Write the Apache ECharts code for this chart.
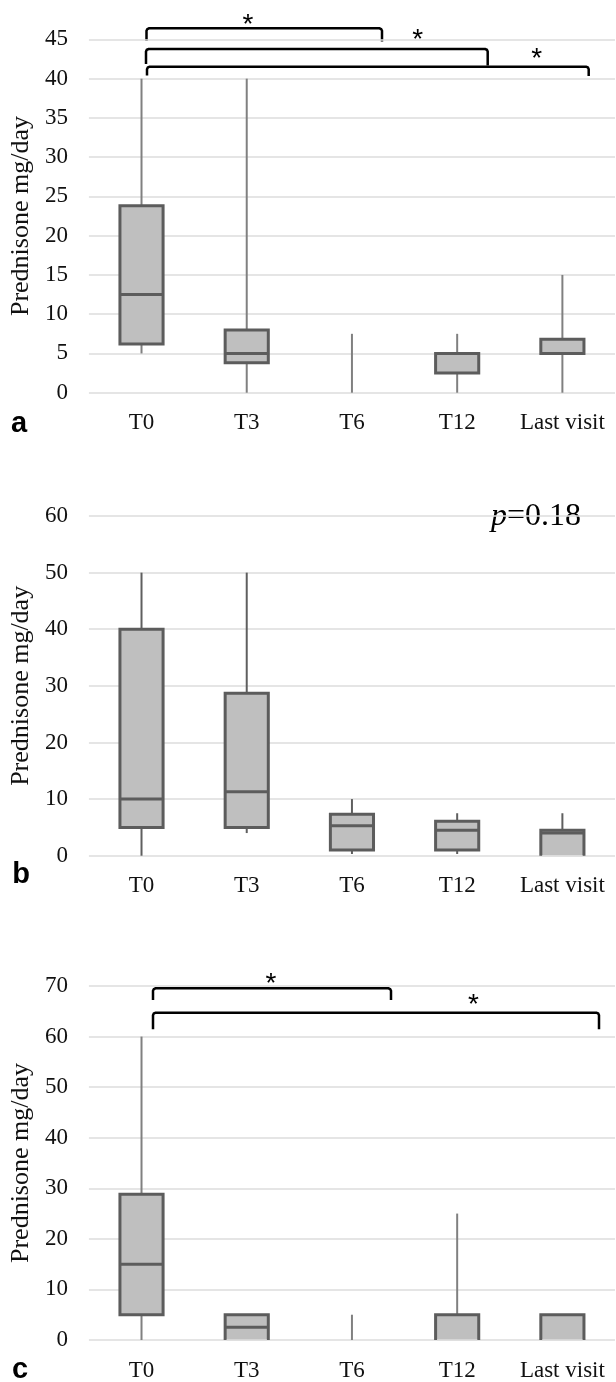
<!DOCTYPE html>
<html>
<head>
<meta charset="utf-8">
<script src="https://cdn.jsdelivr.net/npm/echarts@6/dist/echarts.min.js"></script>
<style>
html,body{margin:0;padding:0;background:#fff;}
#chart{width:616px;height:1382px;}
</style>
</head>
<body>
<div id="chart"></div>
<script>
// ---------- DATA ----------
const categories = ['T0', 'T3', 'T6', 'T12', 'Last visit'];

// Panel a
const aMin    = [5,    0,   0,   0,   0];
const aQ1     = [6.2,  3.8, 0,   2.5, 5];
const aMedian = [12.5, 5,   0,   5,   5];
const aQ3     = [23.8, 8,   0,   5,   6.8];
const aMax    = [40,   40,  7.5, 7.5, 15];

// Panel b
const bMin    = [0,  4,    0.3, 0.3, 0];
const bQ1     = [5,  5,    1,   1,   0];
const bMedian = [10, 11.3, 5.3, 4.5, 4];
const bQ3     = [40, 28.7, 7.3, 6.1, 4.5];
const bMax    = [50, 50,   10,  7.5, 7.5];

// Panel c
const cMin    = [0,    0,   0, 0,  0];
const cQ1     = [5,    0,   0, 0,  0];
const cMedian = [15,   2.5, 0, 5,  5];
const cQ3     = [28.8, 5,   0, 5,  5];
const cMax    = [60,   5,   5, 25, 5];

// axis ranges
const aAxis = {min: 0, max: 45, interval: 5};
const bAxis = {min: 0, max: 60, interval: 10};
const cAxis = {min: 0, max: 70, interval: 10};

const yTitle = 'Prednisone mg/day';
const pText = '0.18';

// ---------- BUILD ----------
function rows(mn, q1, md, q3, mx) {
  return categories.map((c, i) => [i, mn[i], q1[i], md[i], q3[i], mx[i]]);
}

const SERIF = '"Liberation Serif", "Times New Roman", serif';
const SANS = '"Liberation Sans", Arial, sans-serif';
const grids = [
  {left: 87, width: 528, top: 39.4, height: 353.3},
  {left: 87, width: 528, top: 516, height: 339.7},
  {left: 87, width: 528, top: 986, height: 354}
];
const ranges = [aAxis, bAxis, cAxis];
const whiskerColors = ['#808080', '#5f5f5f', '#808080'];
const BOX_STROKE = '#5c5c5c';

function makeRender(wColor, axisMin) {
  return function (params, api) {
    const idx = api.value(0);
    const mn = api.value(1), q1 = api.value(2), md = api.value(3), q3 = api.value(4), mx = api.value(5);
    const pMin = api.coord([idx, mn]);
    const pQ1 = api.coord([idx, q1]);
    const pMd = api.coord([idx, md]);
    const pQ3 = api.coord([idx, q3]);
    const pMax = api.coord([idx, mx]);
    const bw = api.size([1, 0])[0] * 0.41;
    const cx = pMin[0];
    const xl = cx - bw / 2, xr = cx + bw / 2;
    const children = [];
    const wStyle = {stroke: wColor, lineWidth: 2, fill: null};
    if (mn < q1) children.push({type: 'line', shape: {x1: cx, y1: pMin[1], x2: cx, y2: pQ1[1]}, style: wStyle});
    if (mx > q3) children.push({type: 'line', shape: {x1: cx, y1: pQ3[1], x2: cx, y2: pMax[1]}, style: wStyle});
    if (q3 > q1) {
      if (q1 <= axisMin) {
        // box sitting on the baseline: bottom edge merges with the light gridline
        children.push({type: 'rect', shape: {x: xl, y: pQ3[1], width: bw, height: pQ1[1] - pQ3[1]},
          style: {fill: '#bfbfbf'}});
        children.push({type: 'polyline', shape: {points: [[xl, pQ1[1]], [xl, pQ3[1]], [xr, pQ3[1]], [xr, pQ1[1]]]},
          style: {stroke: BOX_STROKE, lineWidth: 3, fill: null}});
        children.push({type: 'line', shape: {x1: xl + 1.5, y1: pQ1[1], x2: xr - 1.5, y2: pQ1[1]},
          style: {stroke: '#dcdcdc', lineWidth: 1.5}});
      } else {
        children.push({type: 'rect', shape: {x: xl, y: pQ3[1], width: bw, height: pQ1[1] - pQ3[1]},
          style: {fill: '#bfbfbf', stroke: BOX_STROKE, lineWidth: 3}});
      }
      if (md > q1 && md < q3) {
        children.push({type: 'line', shape: {x1: xl, y1: pMd[1], x2: xr, y2: pMd[1]},
          style: {stroke: BOX_STROKE, lineWidth: 3}});
      }
    }
    return {type: 'group', children: children};
  };
}

const xAxes = grids.map((g, i) => ({
  type: 'category', gridIndex: i, data: categories, boundaryGap: true,
  axisLine: {show: false}, axisTick: {show: false},
  axisLabel: {fontFamily: SERIF, fontSize: 23, color: '#111', margin: 19, interval: 0}
}));
const yAxes = grids.map((g, i) => ({
  type: 'value', gridIndex: i, min: ranges[i].min, max: ranges[i].max, interval: ranges[i].interval,
  axisLine: {show: false}, axisTick: {show: false},
  axisLabel: {fontFamily: SERIF, fontSize: 23, color: '#111', margin: 21},
  splitLine: {lineStyle: {color: '#dcdcdc', width: 1.5}},
  name: yTitle, nameLocation: 'middle', nameRotate: 90, nameGap: 54,
  nameTextStyle: {fontFamily: SERIF, fontSize: 26, color: '#111'}
}));

const datasets = [
  rows(aMin, aQ1, aMedian, aQ3, aMax),
  rows(bMin, bQ1, bMedian, bQ3, bMax),
  rows(cMin, cQ1, cMedian, cQ3, cMax)
];
const series = datasets.map((d, i) => ({
  type: 'custom', xAxisIndex: i, yAxisIndex: i, data: d, clip: false,
  encode: {x: 0, y: [1, 2, 3, 4, 5]},
  renderItem: makeRender(whiskerColors[i], ranges[i].min), silent: true
}));

// ---------- ANNOTATIONS (brackets, stars, labels) ----------
function bracket(x1, x2, yTop, yB1, yB2) {
  const r = 2.5;
  return {
    type: 'polyline',
    shape: {points: [[x1, yB1], [x1, yTop + r], [x1 + 0.8, yTop + 0.8], [x1 + r, yTop],
                     [x2 - r, yTop], [x2 - 0.8, yTop + 0.8], [x2, yTop + r], [x2, yB2]]},
    style: {stroke: '#000', lineWidth: 2.5, fill: null}
  };
}
function star(x, y) {
  return {type: 'text', x: x, y: y, style: {text: '*', font: '28px ' + SANS,
    fill: '#000', align: 'center', verticalAlign: 'middle'}};
}
function panelLabel(t, x, y) {
  return {type: 'text', x: x, y: y, style: {text: t, font: 'bold 29px ' + SANS,
    fill: '#000', align: 'center', verticalAlign: 'middle'}};
}

const graphics = [
  bracket(146.5, 382, 28.3, 41, 41.5),
  bracket(146, 487.7, 49, 64, 65.5),
  bracket(147, 588.7, 66.7, 75.5, 76),
  star(248, 25), star(417.7, 40), star(536.7, 59),
  bracket(153, 391, 988.3, 1000, 1000),
  bracket(153, 599, 1012.7, 1029.3, 1029.3),
  star(271, 984), star(473.5, 1005),
  panelLabel('a', 19, 424),
  panelLabel('b', 21, 875),
  panelLabel('c', 20, 1370),
  {type: 'text', x: 491, y: 533, style: {
    text: '{i|p}{r|=' + pText + '}',
    rich: {i: {font: 'italic 32px ' + SERIF, fill: '#000'},
           r: {font: '32px ' + SERIF, fill: '#000'}},
    align: 'left', verticalAlign: 'bottom'}}
];

const chart = echarts.init(document.getElementById('chart'), null, {renderer: 'canvas'});
chart.setOption({
  animation: false,
  backgroundColor: '#fff',
  grid: grids,
  xAxis: xAxes,
  yAxis: yAxes,
  series: series,
  graphic: graphics
});
</script>
</body>
</html>
